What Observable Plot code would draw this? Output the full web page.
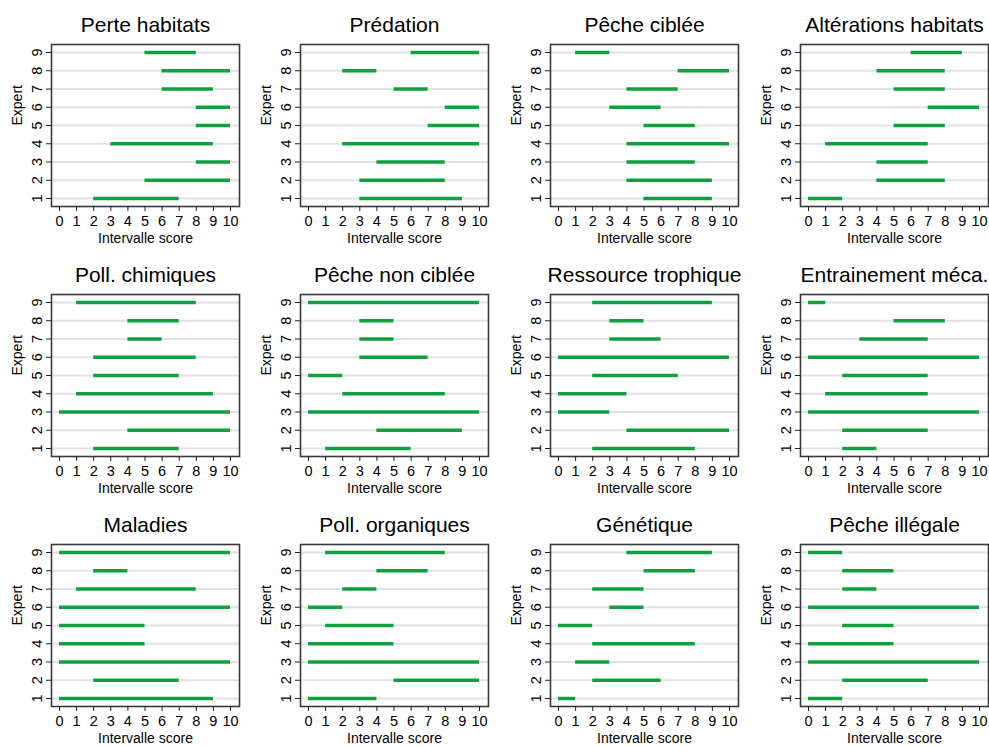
<!DOCTYPE html>
<html>
<head>
<meta charset="utf-8">
<script src="https://cdn.jsdelivr.net/npm/d3@7"></script>
<script src="https://cdn.jsdelivr.net/npm/@observablehq/plot@0.6"></script>
<style>
  body { margin: 0; background: #fff; }
  #grid { position: relative; width: 989px; height: 746px; overflow: hidden; }
  #grid svg { position: absolute; }
</style>
</head>
<body>
<div id="grid"></div>
<script>
// Threat categories, one panel each
const threats = [
  "Perte habitats", "Prédation", "Pêche ciblée", "Altérations habitats",
  "Poll. chimiques", "Pêche non ciblée", "Ressource trophique", "Entrainement méca.",
  "Maladies", "Poll. organiques", "Génétique", "Pêche illégale"
];

const experts = [1, 2, 3, 4, 5, 6, 7, 8, 9];
const scoreTicks = [0, 1, 2, 3, 4, 5, 6, 7, 8, 9, 10];

// Lower bound of each expert's score interval (experts 1..9)
const scoreLow = [
  [2, 5, 8, 3, 8, 8, 6, 6, 5],
  [3, 3, 4, 2, 7, 8, 5, 2, 6],
  [5, 4, 4, 4, 5, 3, 4, 7, 1],
  [0, 4, 4, 1, 5, 7, 5, 4, 6],
  [2, 4, 0, 1, 2, 2, 4, 4, 1],
  [1, 4, 0, 2, 0, 3, 3, 3, 0],
  [2, 4, 0, 0, 2, 0, 3, 3, 2],
  [2, 2, 0, 1, 2, 0, 3, 5, 0],
  [0, 2, 0, 0, 0, 0, 1, 2, 0],
  [0, 5, 0, 0, 1, 0, 2, 4, 1],
  [0, 2, 1, 2, 0, 3, 2, 5, 4],
  [0, 2, 0, 0, 2, 0, 2, 2, 0]
];

// Upper bound of each expert's score interval (experts 1..9)
const scoreHigh = [
  [7, 10, 10, 9, 10, 10, 9, 10, 8],
  [9, 8, 8, 10, 10, 10, 7, 4, 10],
  [9, 9, 8, 10, 8, 6, 7, 10, 3],
  [2, 8, 7, 7, 8, 10, 8, 8, 9],
  [7, 10, 10, 9, 7, 8, 6, 7, 8],
  [6, 9, 10, 8, 2, 7, 5, 5, 10],
  [8, 10, 3, 4, 7, 10, 6, 5, 9],
  [4, 7, 10, 7, 7, 10, 7, 8, 1],
  [9, 7, 10, 5, 5, 10, 8, 4, 10],
  [4, 10, 10, 5, 5, 2, 4, 7, 8],
  [1, 6, 3, 8, 2, 5, 5, 8, 9],
  [2, 7, 10, 5, 5, 10, 4, 5, 2]
];

const green = "#10a040";
const font = "'Liberation Sans', Arial, Helvetica, sans-serif";
const colLeft = [0, 249, 499, 749];
const rowTop = [0, 250, 500];

const grid = document.getElementById("grid");

threats.forEach((name, i) => {
  const intervals = experts.map((e, j) => ({ expert: e, lo: scoreLow[i][j], hi: scoreHigh[i][j] }));
  const chart = Plot.plot({
    width: 249,
    height: 250,
    marginLeft: 51,
    marginRight: 10,
    marginTop: 44,
    marginBottom: 44,
    style: { fontFamily: font, background: "white", color: "#000", overflow: "visible" },
    x: { domain: [0, 10], insetLeft: 8, insetRight: 9 },
    y: { domain: [1, 9], insetTop: 8, insetBottom: 8 },
    marks: [
      // light guide line for every expert
      Plot.ruleY(experts, { stroke: "#e2e2e2", strokeWidth: 2 }),
      // score interval per expert
      Plot.ruleY(intervals, { y: "expert", x1: "lo", x2: "hi", stroke: green, strokeWidth: 3.5 }),
      // panel box
      Plot.frame({ stroke: "#3a3a3a", strokeWidth: 1.6 }),
      Plot.axisX(scoreTicks, { tickSize: 5, tickPadding: 4, fontSize: 14.5, label: null, stroke: "#222" }),
      Plot.axisY(experts, { tickSize: 5, tickPadding: 5, tickRotate: -90, fontSize: 14.5, label: null, stroke: "#222" }),
      Plot.text([name], { frameAnchor: "top", lineAnchor: "middle", dy: -19, fontSize: 21 }),
      Plot.text(["Intervalle score"], { frameAnchor: "bottom", lineAnchor: "middle", dy: 32, fontSize: 14 }),
      Plot.text(["Expert"], { frameAnchor: "left", lineAnchor: "middle", dx: -34, rotate: -90, fontSize: 14 })
    ]
  });
  chart.style.left = colLeft[i % 4] + "px";
  chart.style.top = rowTop[Math.floor(i / 4)] + "px";
  grid.appendChild(chart);
});
</script>
</body>
</html>
